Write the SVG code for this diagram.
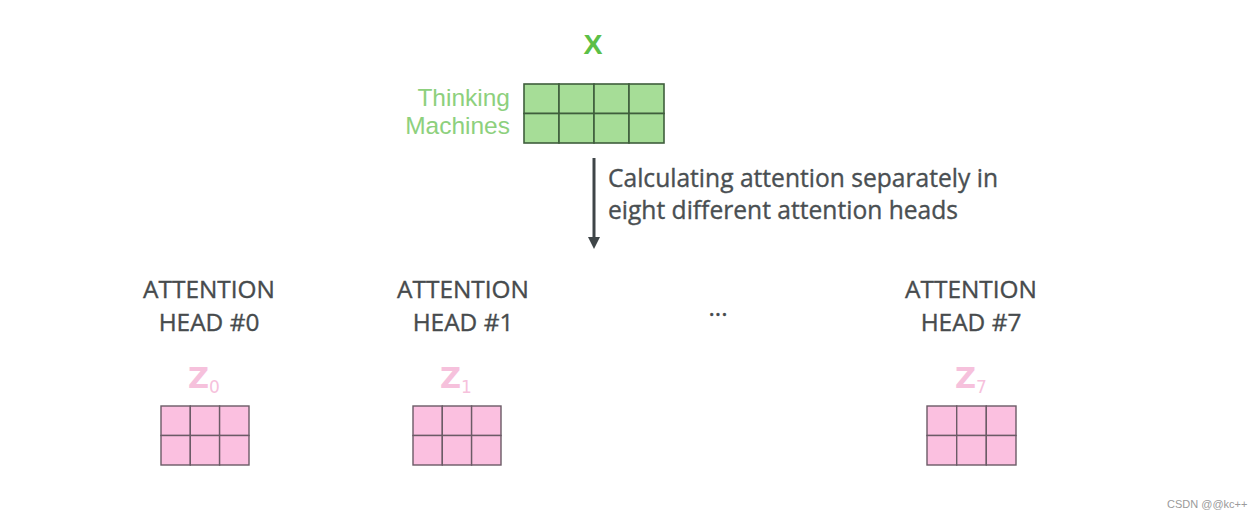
<svg xmlns="http://www.w3.org/2000/svg" width="1256" height="518" viewBox="0 0 1256 518">
<style>
.lbl{font-family:"Open Sans","Liberation Sans",sans-serif;fill:#4a4f52;stroke:#4a4f52;stroke-width:0.35;font-size:24.6px}
.hd{font-family:"Open Sans","Liberation Sans",sans-serif;fill:#474b4d;stroke:#474b4d;stroke-width:0.35;font-size:24.4px;text-anchor:middle}
.grn{font-family:"Liberation Sans",Arial,sans-serif;fill:#8dd07d;font-size:24.5px;text-anchor:end;font-weight:300}
.z{font-family:"DejaVu Sans","Liberation Sans",sans-serif;fill:#f6c1dc;font-weight:bold}
.gcell{fill:#a6dd97;stroke:#3f5e3c;stroke-width:1.6}
.pcell{fill:#fbc0e0;stroke:#6b5b66;stroke-width:1.4}
</style>
<defs>
<marker id="ah" markerWidth="4" markerHeight="4" refX="0.5" refY="2" orient="auto" markerUnits="strokeWidth">
<path d="M0,0 L4,2 L0,4 Z" fill="#3f4548"/>
</marker>
</defs>
<rect width="1256" height="518" fill="#ffffff"/>

<g id="x-node">
<text x="593" y="54" font-family="Liberation Sans,Arial,sans-serif" font-size="28.5" font-weight="bold" fill="#5cbf47" text-anchor="middle">X</text>
<text class="grn" x="510" y="106">Thinking</text>
<text class="grn" x="510" y="134">Machines</text>
<g>
<rect class="gcell" x="524" y="84" width="35" height="29.5"/>
<rect class="gcell" x="559" y="84" width="35" height="29.5"/>
<rect class="gcell" x="594" y="84" width="35" height="29.5"/>
<rect class="gcell" x="629" y="84" width="35" height="29.5"/>
<rect class="gcell" x="524" y="113.5" width="35" height="29.5"/>
<rect class="gcell" x="559" y="113.5" width="35" height="29.5"/>
<rect class="gcell" x="594" y="113.5" width="35" height="29.5"/>
<rect class="gcell" x="629" y="113.5" width="35" height="29.5"/>
</g>
</g>

<g id="connectors">
<line x1="594" y1="158" x2="594" y2="238.5" stroke="#3f4548" stroke-width="3" marker-end="url(#ah)"/>
<text class="lbl" x="608" y="187">Calculating attention separately in</text>
<text class="lbl" x="608" y="219">eight different attention heads</text>
</g>

<g id="head0">
<text class="hd" x="209" y="298">ATTENTION</text>
<text class="hd" x="209" y="331">HEAD #0</text>
<text class="z" x="188" y="388" font-size="29">Z<tspan font-size="17" font-weight="normal" dy="5">0</tspan></text>
<rect class="pcell" x="161" y="406" width="29.3" height="29.5"/>
<rect class="pcell" x="190.3" y="406" width="29.3" height="29.5"/>
<rect class="pcell" x="219.6" y="406" width="29.4" height="29.5"/>
<rect class="pcell" x="161" y="435.5" width="29.3" height="29.5"/>
<rect class="pcell" x="190.3" y="435.5" width="29.3" height="29.5"/>
<rect class="pcell" x="219.6" y="435.5" width="29.4" height="29.5"/>
</g>

<g id="head1">
<text class="hd" x="463" y="298">ATTENTION</text>
<text class="hd" x="463" y="331">HEAD #1</text>
<text class="z" x="440" y="388" font-size="29">Z<tspan font-size="17" font-weight="normal" dy="5">1</tspan></text>
<rect class="pcell" x="413" y="406" width="29.3" height="29.5"/>
<rect class="pcell" x="442.3" y="406" width="29.3" height="29.5"/>
<rect class="pcell" x="471.6" y="406" width="29.4" height="29.5"/>
<rect class="pcell" x="413" y="435.5" width="29.3" height="29.5"/>
<rect class="pcell" x="442.3" y="435.5" width="29.3" height="29.5"/>
<rect class="pcell" x="471.6" y="435.5" width="29.4" height="29.5"/>
</g>

<g id="ellipsis">
<text class="hd" x="718" y="316" font-size="18" stroke-width="0">...</text>
</g>

<g id="head7">
<text class="hd" x="971" y="298">ATTENTION</text>
<text class="hd" x="971" y="331">HEAD #7</text>
<text class="z" x="955" y="388" font-size="29">Z<tspan font-size="17" font-weight="normal" dy="5">7</tspan></text>
<rect class="pcell" x="927" y="406" width="29.7" height="29.5"/>
<rect class="pcell" x="956.7" y="406" width="29.6" height="29.5"/>
<rect class="pcell" x="986.3" y="406" width="29.7" height="29.5"/>
<rect class="pcell" x="927" y="435.5" width="29.7" height="29.5"/>
<rect class="pcell" x="956.7" y="435.5" width="29.6" height="29.5"/>
<rect class="pcell" x="986.3" y="435.5" width="29.7" height="29.5"/>
</g>

<text x="1167" y="508" font-family="Liberation Sans,Arial,sans-serif" font-size="11" fill="#9a9a9a">CSDN @@kc++</text>
</svg>
